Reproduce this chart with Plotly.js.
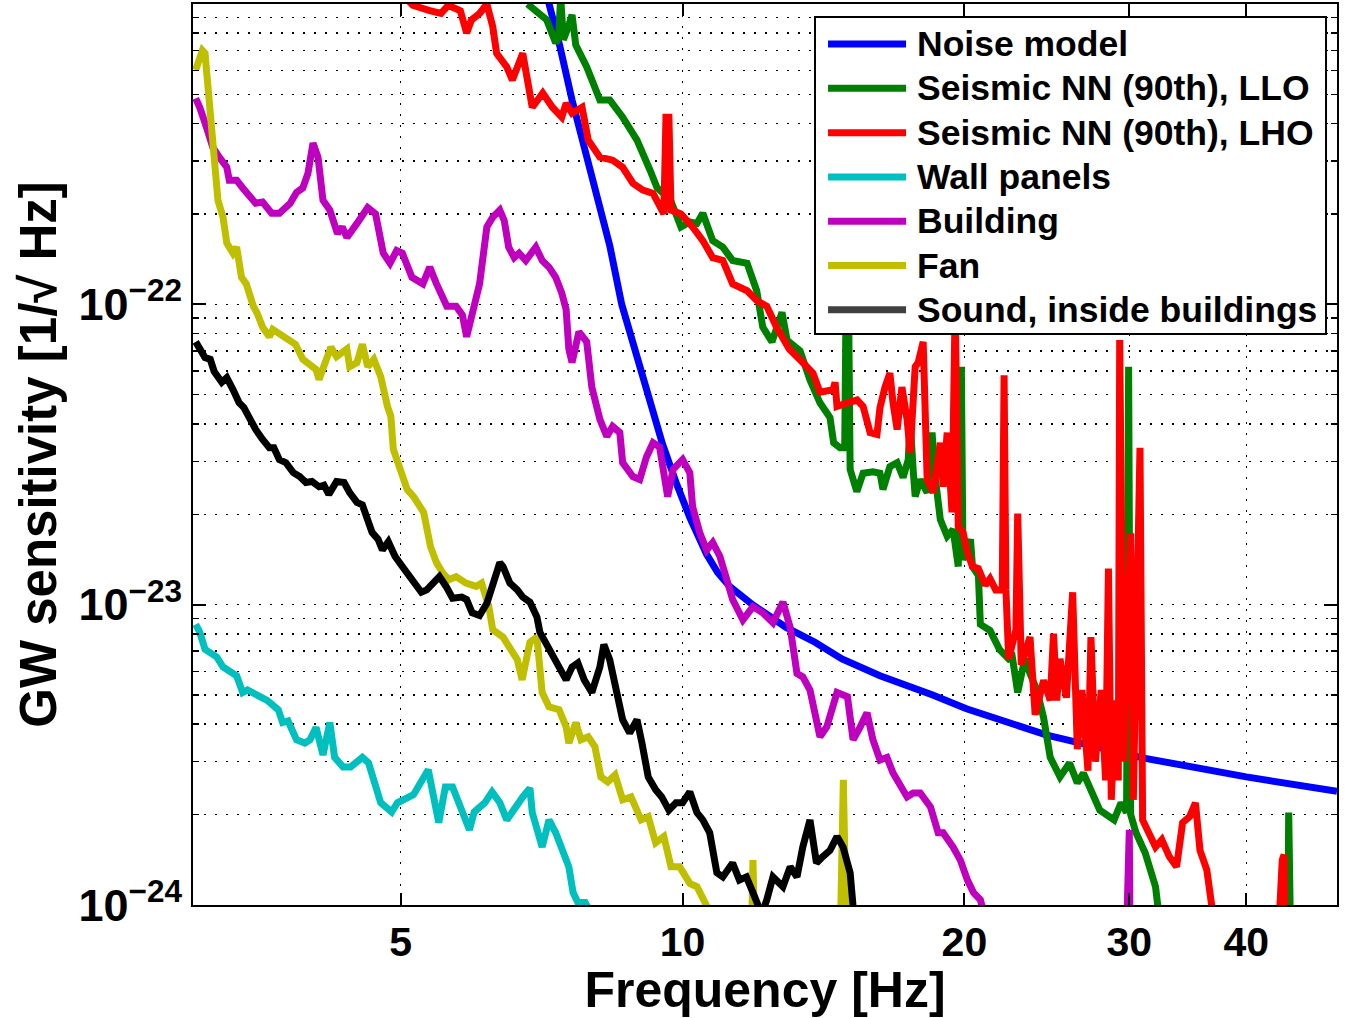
<!DOCTYPE html>
<html><head><meta charset="utf-8">
<script src="https://cdn.plot.ly/plotly-3.0.1.min.js"></script>
<style>html,body{margin:0;padding:0;background:#fff}#chart{width:1350px;height:1018px}</style>
</head><body><div id="chart"></div><script>
// ---- data (frequency in Hz, GW sensitivity in 1/sqrt(Hz)) ----
const seriesNames = ['Noise model','Seismic NN (90th), LLO','Seismic NN (90th), LHO','Wall panels','Building','Fan','Sound, inside buildings'];

const noiseF = [7.12, 7.21, 7.39, 7.62, 7.90, 8.16, 8.36, 8.61, 8.78, 9.15, 9.52, 9.86, 10.18, 10.61, 10.9, 11.23, 11.88, 12.9, 13.85, 14.8, 16.25, 18.5, 20.1, 24.5, 31.0, 40.0, 50.0];
const noiseV = [1.15e-21, 1.0e-21, 7.3e-22, 4.79e-22, 3.14e-22, 2.14e-22, 1.57e-22, 1.0e-22, 8.1e-23, 5.1e-23, 3.42e-23, 2.51e-23, 1.95e-23, 1.47e-23, 1.28e-23, 1.15e-23, 1.0e-23, 8.4e-24, 7.5e-24, 6.6e-24, 5.8e-24, 5.0e-24, 4.5e-24, 3.68e-24, 3.09e-24, 2.67e-24, 2.39e-24];

const lloF = [6.83, 7.16, 7.32, 7.37, 7.41, 7.46, 7.56, 7.62, 7.69, 7.90,
  8.16, 8.36, 8.63, 8.94, 9.23, 9.39, 9.71, 9.96, 10.18, 10.36,
  10.51, 10.77, 11.04, 11.31, 11.72, 11.89, 12.0, 12.18, 12.46, 12.77,
  12.93, 13.35, 13.68, 14.02, 14.37, 14.5, 14.73, 14.9, 14.96, 15.03,
  15.1, 15.35, 15.59, 15.97, 16.25, 16.37, 16.65, 16.95, 17.2, 17.42,
  17.5, 17.63, 17.72, 17.94, 18.25, 18.47, 18.61, 18.85, 19.17, 19.45,
  19.7, 19.85, 19.93, 20.3, 20.4, 20.7, 20.8, 21.3, 21.8, 22.3,
  22.5, 22.8, 23.2, 23.5, 23.9, 24.3, 24.7, 25.3, 25.9, 26.4,
  26.8, 27.9, 28.9, 29.4, 29.8, 29.95, 30.1, 30.5, 31.2, 32.0,
  32.4, null, 44.3, 44.4, 44.6];
const lloV = [1.0e-21, 8.85e-22, 7.41e-22, 7.7e-22, 1.05e-21, 7.6e-22, 8.5e-22, 9.2e-22, 7.3e-22, 6.17e-22,
  4.79e-22, 4.79e-22, 4.2e-22, 3.52e-22, 2.8e-22, 2.45e-22, 2.22e-22, 1.81e-22, 1.88e-22, 1.86e-22,
  2.01e-22, 1.63e-22, 1.55e-22, 1.40e-22, 1.37e-22, 1.20e-22, 1.11e-22, 8.4e-23, 7.5e-23, 9.4e-23,
  7.6e-23, 7.0e-23, 5.6e-23, 4.7e-23, 4.2e-23, 3.46e-23, 3.33e-23, 3.33e-23, 1.3e-22, 1.3e-22,
  2.82e-23, 2.38e-23, 2.74e-23, 2.77e-23, 2.74e-23, 2.42e-23, 2.88e-23, 2.97e-23, 2.65e-23, 3.04e-23,
  4.14e-23, 2.82e-23, 2.29e-23, 2.61e-23, 2.36e-23, 3.74e-23, 2.67e-23, 1.92e-23, 1.69e-23, 1.78e-23,
  1.34e-23, 6.2e-23, 1.41e-23, 1.65e-23, 1.34e-23, 1.25e-23, 8.6e-24, 8.2e-24, 7.1e-24, 6.6e-24,
  6.7e-24, 5.1e-24, 6.6e-24, 5.9e-24, 5.2e-24, 4.2e-24, 3.1e-24, 2.67e-24, 2.97e-24, 2.55e-24,
  2.75e-24, 2.07e-24, 1.92e-24, 2.19e-24, 2.03e-24, 6.2e-23, 2.0e-24, 1.74e-24, 1.49e-24, 1.15e-24,
  8.3e-25, null, 8e-25, 2.03e-24, 8e-25];

const lhoF = [5.09, 5.15, 5.37, 5.52, 5.62, 5.79, 5.88, 5.95, 6.07, 6.18,
  6.27, 6.33, 6.49, 6.58, 6.75, 6.81, 6.91, 7.09, 7.26, 7.43,
  7.51, 7.62, 7.81, 7.93, 8.16, 8.42, 8.63, 8.85, 9.07, 9.30,
  9.45, 9.55, 9.60, 9.67, 9.72, 9.96, 10.25, 10.51, 10.77, 11.04,
  11.31, 11.72, 12.0, 12.3, 12.6, 13.0, 13.44, 13.78, 14.02, 14.48,
  14.55, 14.62, 15.0, 15.36, 15.59, 15.86, 16.13, 16.25, 16.45, 16.65,
  16.78, 16.95, 17.15, 17.37, 17.5, 17.72, 17.85, 18.07, 18.25, 18.52,
  18.85, 18.98, 19.17, 19.4, 19.55, 19.7, 19.93, 20.15, 20.4, 20.7,
  21.05, 21.3, 21.6, 21.95, 22.05, 22.15, 22.3, 22.7, 22.8, 22.9,
  23.0, 23.5, 23.8, 24.3, 24.7, 24.9, 25.1, 25.3, 25.7, 26.1,
  26.4, 26.7, 27.1, 27.3, 27.6, 28.0, 28.3, 28.5, 28.7, 29.0,
  29.2, 29.3, 29.6, 29.8, 30.1, 30.3, 30.5, 30.8, 31.0, 31.5,
  32.0, 32.5, 33.1, 33.7, 34.2, 34.8, 35.3, 35.7, 36.3, 36.8,
  null, 43.3, 43.5, 43.7, 43.9, 44.0];
const lhoV = [1.03e-21, 9.9e-22, 9.5e-22, 9.3e-22, 9.9e-22, 9.5e-22, 8.0e-22, 8.85e-22, 9.3e-22, 1.0e-21,
  8.4e-22, 6.85e-22, 6.17e-22, 5.58e-22, 6.85e-22, 5.9e-22, 4.53e-22, 5.05e-22, 4.53e-22, 4.2e-22,
  4.67e-22, 4.33e-22, 4.53e-22, 3.52e-22, 3.09e-22, 3.02e-22, 2.86e-22, 2.53e-22, 2.40e-22, 2.34e-22,
  2.1e-22, 2.0e-22, 4.2e-22, 4.2e-22, 2.06e-22, 2.0e-22, 1.81e-22, 1.63e-22, 1.43e-22, 1.40e-22,
  1.17e-22, 1.11e-22, 1.03e-22, 9.85e-23, 8.4e-23, 7.1e-23, 6.4e-23, 5.9e-23, 5.1e-23, 5.2e-23,
  5.5e-23, 4.57e-23, 4.7e-23, 4.8e-23, 4.57e-23, 3.74e-23, 3.69e-23, 4.53e-23, 5.3e-23, 5.9e-23,
  4.7e-23, 3.83e-23, 5.3e-23, 4.14e-23, 3.21e-23, 6.2e-23, 6.4e-23, 7.5e-23, 2.61e-23, 2.36e-23,
  3.46e-23, 2.47e-23, 3.74e-23, 2.03e-23, 1.0e-22, 1.82e-23, 1.74e-23, 1.49e-23, 1.34e-23, 1.32e-23,
  1.16e-23, 1.22e-23, 1.12e-23, 1.12e-23, 5.8e-23, 1.12e-23, 6.6e-24, 8.25e-24, 2.01e-23, 8.0e-24,
  6.3e-24, 7.8e-24, 4.3e-24, 5.6e-24, 4.8e-24, 8.0e-24, 4.8e-24, 6.6e-24, 4.9e-24, 1.1e-23,
  3.3e-24, 5.2e-24, 2.8e-24, 7.8e-24, 3.0e-24, 5.2e-24, 2.6e-24, 1.32e-23, 2.24e-24, 4.8e-24,
  2.6e-24, 7.6e-23, 3.0e-24, 7.1e-24, 1.73e-23, 2.24e-24, 5.6e-24, 3.33e-23, 1.92e-24, 1.74e-24,
  1.56e-24, 1.65e-24, 1.45e-24, 1.34e-24, 1.88e-24, 1.97e-24, 2.19e-24, 1.52e-24, 1.31e-24, 9.6e-25,
  null, 8e-25, 1.31e-24, 1.41e-24, 1.47e-24, 8e-25];

const wallF = [3.02, 3.05, 3.09, 3.18, 3.23, 3.34, 3.39, 3.43, 3.60, 3.70,
  3.74, 3.79, 3.87, 3.95, 4.0, 4.06, 4.13, 4.2, 4.25, 4.34,
  4.42, 4.55, 4.62, 4.70, 4.76, 4.89, 4.96, 5.16, 5.25, 5.35,
  5.49, 5.58, 5.68, 5.81, 5.92, 5.99, 6.15, 6.26, 6.38, 6.49,
  6.62, 6.75, 6.87, 6.91, 7.08, 7.2, 7.32, 7.43, 7.56, 7.64,
  7.73, 7.87, 7.95];
const wallV = [8.6e-24, 8.1e-24, 7.1e-24, 6.7e-24, 6.2e-24, 5.8e-24, 5.1e-24, 5.2e-24, 4.8e-24, 4.47e-24,
  4.05e-24, 4.1e-24, 3.55e-24, 3.46e-24, 3.55e-24, 3.9e-24, 3.16e-24, 4.05e-24, 3.1e-24, 2.88e-24,
  2.88e-24, 3.1e-24, 2.97e-24, 2.47e-24, 2.19e-24, 2.04e-24, 2.19e-24, 2.33e-24, 2.57e-24, 2.82e-24,
  1.88e-24, 2.47e-24, 2.47e-24, 2.03e-24, 1.78e-24, 2.04e-24, 2.19e-24, 2.38e-24, 2.19e-24, 1.92e-24,
  2.12e-24, 2.29e-24, 2.45e-24, 2.03e-24, 1.56e-24, 1.92e-24, 1.74e-24, 1.56e-24, 1.34e-24, 1.1e-24,
  1.02e-24, 1.02e-24, 9.6e-25];

const buildF = [3.02, 3.05, 3.10, 3.15, 3.2, 3.26, 3.28, 3.34, 3.39, 3.45,
  3.5, 3.56, 3.64, 3.71, 3.81, 3.87, 3.93, 3.98, 4.03, 4.08,
  4.13, 4.2, 4.28, 4.33, 4.38, 4.49, 4.61, 4.7, 4.79, 4.87,
  4.95, 5.02, 5.14, 5.28, 5.37, 5.46, 5.6, 5.73, 5.82, 5.88,
  5.95, 6.07, 6.18, 6.27, 6.38, 6.45, 6.52, 6.61, 6.69, 6.8,
  6.97, 7.08, 7.2, 7.32, 7.43, 7.51, 7.56, 7.62, 7.75, 7.9,
  8.0, 8.16, 8.3, 8.42, 8.57, 8.63, 8.85, 9.0, 9.15, 9.3,
  9.45, 9.5, 9.64, 9.77, 10.0, 10.18, 10.25, 10.43, 10.61, 10.77,
  10.96, 11.15, 11.31, 11.6, 11.89, 12.18, 12.49, 12.8, 13.03, 13.25,
  13.44, 13.68, 14.02, 14.26, 14.62, 15.0, 15.21, 15.48, 15.74, 15.97,
  16.25, 16.53, 16.78, 17.37, 17.63, 17.94, 18.4, 18.75, 18.98, 19.45,
  19.8, 20.15, 20.45, 20.8, 21.0, null, 29.8, 29.9, 30.0, 30.05];
const buildV = [4.85e-22, 4.53e-22, 3.9e-22, 3.33e-22, 3.09e-22, 2.86e-22, 2.59e-22, 2.59e-22, 2.44e-22, 2.27e-22,
  2.17e-22, 2.19e-22, 2.01e-22, 2.01e-22, 2.17e-22, 2.36e-22, 2.44e-22, 2.73e-22, 3.44e-22, 3.09e-22,
  2.22e-22, 2.06e-22, 1.72e-22, 1.81e-22, 1.67e-22, 1.86e-22, 2.1e-22, 2.0e-22, 1.48e-22, 1.37e-22,
  1.51e-22, 1.48e-22, 1.23e-22, 1.17e-22, 1.33e-22, 1.17e-22, 9.85e-23, 9.85e-23, 9.2e-23, 7.8e-23,
  9.2e-23, 1.17e-22, 1.81e-22, 1.95e-22, 2.06e-22, 1.9e-22, 1.55e-22, 1.43e-22, 1.48e-22, 1.40e-22,
  1.55e-22, 1.40e-22, 1.33e-22, 1.23e-22, 1.09e-22, 9.6e-23, 7.1e-23, 6.4e-23, 8.1e-23, 7.5e-23,
  5.3e-23, 4.14e-23, 3.63e-23, 3.92e-23, 3.74e-23, 2.97e-23, 2.67e-23, 2.61e-23, 3.1e-23, 3.46e-23,
  3.35e-23, 2.97e-23, 2.29e-23, 2.82e-23, 3.04e-23, 2.75e-23, 2.12e-23, 1.74e-23, 1.52e-23, 1.61e-23,
  1.45e-23, 1.21e-23, 1.04e-23, 8.9e-24, 9.85e-24, 9.4e-24, 8.7e-24, 1.02e-23, 8.4e-24, 5.9e-24,
  5.75e-24, 5.2e-24, 3.63e-24, 3.92e-24, 5.1e-24, 4.94e-24, 3.55e-24, 3.92e-24, 4.37e-24, 3.55e-24,
  3.04e-24, 3.1e-24, 2.75e-24, 2.29e-24, 2.36e-24, 2.36e-24, 2.12e-24, 1.74e-24, 1.74e-24, 1.56e-24,
  1.41e-24, 1.21e-24, 1.1e-24, 1.04e-24, 9.3e-25, null, 8e-25, 1.78e-24, 1.78e-24, 8e-25];

const fanF = [3.02, 3.04, 3.07, 3.09, 3.11, 3.14, 3.16, 3.19, 3.23, 3.26,
  3.31, 3.34, 3.38, 3.42, 3.48, 3.51, 3.56, 3.62, 3.65, 3.86,
  3.93, 4.06, 4.09, 4.16, 4.21, 4.27, 4.38, 4.41, 4.49, 4.55,
  4.61, 4.68, 4.76, 4.84, 4.88, 4.91, 5.0, 5.08, 5.16, 5.29,
  5.38, 5.46, 5.54, 5.63, 5.73, 5.87, 6.02, 6.1, 6.21, 6.27,
  6.43, 6.54, 6.66, 6.74, 6.87, 6.99, 7.08, 7.2, 7.38, 7.51,
  7.56, 7.69, 7.79, 7.93, 8.06, 8.18, 8.32, 8.47, 8.63, 8.81,
  9.03, 9.19, 9.36, 9.55, 9.72, 9.93, 10.18, 10.36, 10.51, 10.69,
  null, 11.85, 11.89, 11.94, null, 14.74, 14.85, 14.96];
const fanV = [6.03e-22, 6.5e-22, 7.0e-22, 6.85e-22, 5.45e-22, 4.2e-22, 3.02e-22, 2.22e-22, 1.95e-22, 1.6e-22,
  1.48e-22, 1.55e-22, 1.23e-22, 1.17e-22, 9.85e-23, 9.4e-23, 8.4e-23, 7.8e-23, 8.25e-23, 7.36e-23,
  6.56e-23, 6.07e-23, 5.62e-23, 6.4e-23, 7.2e-23, 6.7e-23, 7.1e-23, 6.2e-23, 6.4e-23, 7.36e-23,
  6.2e-23, 6.56e-23, 5.75e-23, 4.57e-23, 4.24e-23, 3.29e-23, 2.75e-23, 2.42e-23, 2.29e-23, 2.03e-23,
  1.56e-23, 1.38e-23, 1.28e-23, 1.21e-23, 1.24e-23, 1.18e-23, 1.15e-23, 1.18e-23, 9.85e-24, 8.25e-24,
  7.8e-24, 7.25e-24, 6.56e-24, 5.62e-24, 7.5e-24, 7.8e-24, 5.1e-24, 4.57e-24, 4.47e-24, 3.92e-24,
  3.46e-24, 4.05e-24, 3.55e-24, 3.63e-24, 3.37e-24, 2.67e-24, 2.57e-24, 2.71e-24, 2.24e-24, 2.29e-24,
  1.92e-24, 1.97e-24, 1.61e-24, 1.69e-24, 1.34e-24, 1.34e-24, 1.18e-24, 1.15e-24, 1.04e-24, 9.5e-25,
  null, 8e-25, 1.41e-24, 8e-25, null, 8e-25, 2.61e-24, 8e-25];

const soundF = [3.02, 3.05, 3.09, 3.13, 3.16, 3.22, 3.26, 3.31, 3.36, 3.4,
  3.45, 3.5, 3.56, 3.62, 3.66, 3.71, 3.77, 3.84, 3.9, 3.96,
  4.02, 4.09, 4.14, 4.19, 4.27, 4.35, 4.41, 4.49, 4.55, 4.61,
  4.66, 4.73, 4.78, 4.85, 4.93, 5.02, 5.11, 5.2, 5.26, 5.33,
  5.41, 5.5, 5.59, 5.68, 5.81, 5.88, 5.96, 6.07, 6.18, 6.27,
  6.38, 6.43, 6.54, 6.66, 6.75, 6.87, 6.99, 7.04, 7.2, 7.38,
  7.51, 7.62, 7.73, 7.85, 8.0, 8.16, 8.24, 8.36, 8.5, 8.63,
  8.78, 8.94, 9.05, 9.19, 9.36, 9.5, 9.67, 9.84, 10.0, 10.18,
  10.36, 10.51, 10.69, 10.88, 11.04, 11.31, 11.5, 11.7, 11.89, 12.03,
  12.15, 12.3, 12.49, 12.8, 13.03, 13.25, 13.44, 13.68, 13.9, 14.12,
  14.37, 14.62, 14.84, 15.1, 15.2, 15.3];
const soundV = [7.5e-23, 7.1e-23, 6.65e-23, 6.56e-23, 5.98e-23, 5.5e-23, 5.7e-23, 5.2e-23, 4.7e-23, 4.53e-23,
  4.14e-23, 3.83e-23, 3.55e-23, 3.33e-23, 3.33e-23, 3.04e-23, 2.97e-23, 2.75e-23, 2.67e-23, 2.55e-23,
  2.57e-23, 2.47e-23, 2.5e-23, 2.33e-23, 2.57e-23, 2.55e-23, 2.36e-23, 2.19e-23, 2.15e-23, 1.92e-23,
  1.74e-23, 1.65e-23, 1.52e-23, 1.62e-23, 1.45e-23, 1.34e-23, 1.24e-23, 1.15e-23, 1.1e-23, 1.12e-23,
  1.18e-23, 1.24e-23, 1.15e-23, 1.05e-23, 1.06e-23, 1.04e-23, 9.4e-24, 9.2e-24, 1.01e-23, 1.15e-23,
  1.38e-23, 1.34e-23, 1.18e-23, 1.12e-23, 1.06e-23, 1.02e-23, 9.1e-24, 8.1e-24, 7.1e-24, 6.2e-24,
  5.62e-24, 6.2e-24, 6.4e-24, 5.62e-24, 5.1e-24, 6.2e-24, 7.36e-24, 6.56e-24, 5.3e-24, 4.14e-24,
  3.74e-24, 4.14e-24, 3.46e-24, 2.67e-24, 2.42e-24, 2.29e-24, 2.07e-24, 2.19e-24, 2.19e-24, 2.38e-24,
  2.03e-24, 1.92e-24, 1.74e-24, 1.28e-24, 1.24e-24, 1.38e-24, 1.21e-24, 1.24e-24, 1.1e-24, 1.0e-24,
  9.3e-25, 1.04e-24, 1.24e-24, 1.15e-24, 1.34e-24, 1.24e-24, 1.56e-24, 1.92e-24, 1.38e-24, 1.45e-24,
  1.52e-24, 1.69e-24, 1.56e-24, 1.28e-24, 1.0e-24, 8e-25];

const xTickVals = [5, 10, 20, 30, 40];
const xTickText = ['5', '10', '20', '30', '40'];
const yTickVals = [1e-24, 1e-23, 1e-22];
const yTickText = ['10<sup>−24</sup>', '10<sup>−23</sup>', '10<sup>−22</sup>'];
const yMinorVals = [2e-24,3e-24,4e-24,5e-24,6e-24,7e-24,8e-24,9e-24,
                    2e-23,3e-23,4e-23,5e-23,6e-23,7e-23,8e-23,9e-23,
                    2e-22,3e-22,4e-22,5e-22,6e-22,7e-22,8e-22,9e-22];

const colors = ['#0000FF', '#008000', '#FF0000', '#00BFBF', '#BF00BF', '#BFBF00', '#000000'];
const legendSwatch = ['#0000FF', '#008000', '#FF0000', '#00BFBF', '#BF00BF', '#BFBF00', '#404040'];

// ---- chart ----
const FONT = '"Liberation Sans", Arial, Helvetica, sans-serif';
const LW = 7;
const series = [[noiseF, noiseV], [lloF, lloV], [lhoF, lhoV], [wallF, wallV], [buildF, buildV], [fanF, fanV], [soundF, soundV]];
const data = series.map((s, i) => ({
  type: 'scatter', mode: 'lines', name: seriesNames[i], x: s[0], y: s[1],
  connectgaps: false, showlegend: false, hoverinfo: 'skip',
  line: {color: colors[i], width: LW}
}));

// legend box (paper coordinates), drawn above the plot like the original's opaque legend
const LEG = {x0: 0.5437, x1: 0.9904, y0: 0.6337, y1: 0.9856, lineX0: 0.5551, lineX1: 0.6233, textX: 0.6312, rowTop: 0.9556, rowStep: 0.04918};
const shapes = [{type: 'rect', xref: 'paper', yref: 'paper', x0: LEG.x0, x1: LEG.x1, y0: LEG.y0, y1: LEG.y1,
  fillcolor: '#ffffff', line: {color: '#000', width: 2}, layer: 'above'}];
const annotations = [];
seriesNames.forEach((n, i) => {
  const yy = LEG.rowTop - i * LEG.rowStep;
  shapes.push({type: 'line', xref: 'paper', yref: 'paper', x0: LEG.lineX0, x1: LEG.lineX1, y0: yy, y1: yy,
    line: {color: legendSwatch[i], width: LW}, layer: 'above'});
  annotations.push({xref: 'paper', yref: 'paper', x: LEG.textX, y: yy, xanchor: 'left', yanchor: 'middle',
    text: n, showarrow: false, font: {family: FONT, size: 35.5, color: '#000', weight: 'bold'}});
});

const gridDash = '2px,9px';
const layout = {
  width: 1350, height: 1018,
  margin: {l: 193, r: 13, t: 4, b: 113, pad: 0},
  paper_bgcolor: '#ffffff', plot_bgcolor: '#ffffff',
  showlegend: false,
  font: {family: FONT, color: '#000'},
  shapes: shapes,
  annotations: annotations,
  xaxis: {
    type: 'log', range: [Math.log10(3), Math.log10(50)],
    tickmode: 'array', tickvals: xTickVals, ticktext: xTickText,
    ticks: 'inside', ticklen: 12, tickwidth: 2, tickcolor: '#000',
    showline: true, linewidth: 2, linecolor: '#000', mirror: 'ticks',
    showgrid: true, gridcolor: '#000', gridwidth: 1.5, griddash: gridDash,
    zeroline: false,
    tickfont: {family: FONT, size: 41, color: '#000', weight: 'bold'},
    title: {text: 'Frequency [Hz]', font: {family: FONT, size: 50, color: '#000', weight: 'bold'}, standoff: 8}
  },
  yaxis: {
    type: 'log', range: [-24, -21.0],
    tickmode: 'array', tickvals: yTickVals, ticktext: yTickText,
    ticks: 'inside', ticklen: 13, tickwidth: 2, tickcolor: '#000',
    showline: true, linewidth: 2, linecolor: '#000', mirror: 'ticks',
    showgrid: true, gridcolor: '#000', gridwidth: 1.5, griddash: gridDash,
    minor: {tickmode: 'array', tickvals: yMinorVals, ticks: 'inside', ticklen: 6, tickwidth: 1.5, tickcolor: '#000',
            showgrid: true, gridcolor: '#000', gridwidth: 1.5, griddash: gridDash},
    zeroline: false,
    tickfont: {family: FONT, size: 45, color: '#000', weight: 'bold'},
    title: {text: 'GW sensitivity [1/√ Hz]', font: {family: FONT, size: 51, color: '#000', weight: 'bold'}, standoff: 6}
  }
};

Plotly.newPlot('chart', data, layout, {displayModeBar: false, staticPlot: true});
</script></body></html>
